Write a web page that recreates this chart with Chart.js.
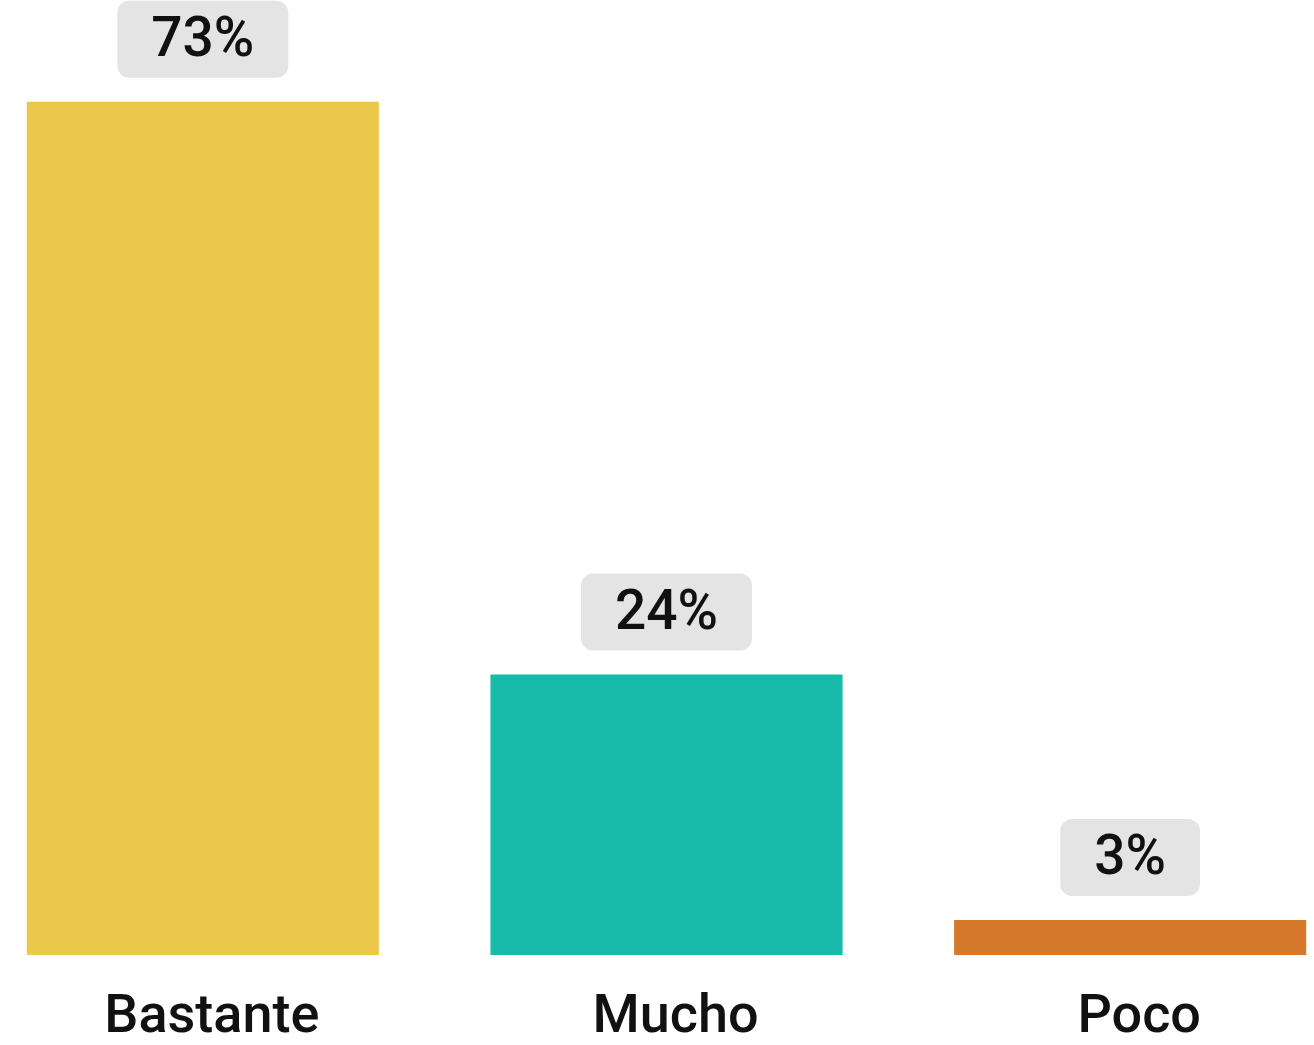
<!DOCTYPE html>
<html>
<head>
<meta charset="utf-8">
<script src="https://cdn.jsdelivr.net/npm/chart.js@4.4.0/dist/chart.umd.min.js"></script>
<style>
  html, body { margin: 0; padding: 0; background: #fff; overflow: hidden; }
  /* el contenedor es mas ancho que la ventana para que las barras queden pegadas al borde */
  #caja { position: absolute; left: -29px; top: 0; width: 1391px; height: 1045px; }
</style>
</head>
<body>
<div id="caja"><canvas id="grafico"></canvas></div>
<script>
  // datos de la encuesta
  var categorias = ['Bastante', 'Mucho', 'Poco'];
  var porcentajes = [73, 24, 3];
  var colores = ['#EBC84A', '#16BBA9', '#D7792B'];

  var fuente = 'Roboto, "DejaVu Sans", sans-serif';

  // dibuja las etiquetas grises con el porcentaje encima de cada barra
  var etiquetas = {
    id: 'etiquetas',
    afterDatasetsDraw: function(chart) {
      var ctx = chart.ctx;
      var barras = chart.getDatasetMeta(0).data;
      ctx.save();
      ctx.font = '500 55px ' + fuente;
      ctx.textAlign = 'center';
      ctx.textBaseline = 'middle';
      for (var i = 0; i < barras.length; i++) {
        var texto = porcentajes[i] + '%';
        var ancho = ctx.measureText(texto).width + 68;
        var alto = 77;
        var x = barras[i].x - ancho / 2;
        var y = barras[i].y - 24 - alto;
        ctx.fillStyle = '#E4E4E4';
        ctx.beginPath();
        ctx.roundRect(x, y, ancho, alto, 12);
        ctx.fill();
        ctx.fillStyle = '#111';
        ctx.fillText(texto, barras[i].x, y + alto / 2 + 3);
      }
      ctx.restore();
    }
  };

  var ctx = document.getElementById('grafico');
  var chart = new Chart(ctx.getContext('2d'), {
    type: 'bar',
    data: {
      labels: categorias,
      datasets: [{
        data: porcentajes,
        backgroundColor: colores,
        borderWidth: 0,
        barPercentage: 1,
        categoryPercentage: 0.7594
      }]
    },
    plugins: [etiquetas],
    options: {
      responsive: true,
      maintainAspectRatio: false,
      animation: false,
      layout: {
        padding: { top: 20, left: 0, right: 0, bottom: 0 }
      },
      plugins: {
        legend: { display: false },
        tooltip: { enabled: false }
      },
      scales: {
        x: {
          grid: { display: false, drawTicks: false },
          border: { display: false },
          ticks: {
            color: '#111',
            padding: 31,
            labelOffset: 9,
            font: { family: fuente, size: 54, weight: '500' }
          },
          afterFit: function(escala) {
            escala.height = 90; // la base de las barras queda en y=955
          }
        },
        y: {
          display: false,
          min: 0,
          max: 80
        }
      }
    }
  });
</script>
</body>
</html>
